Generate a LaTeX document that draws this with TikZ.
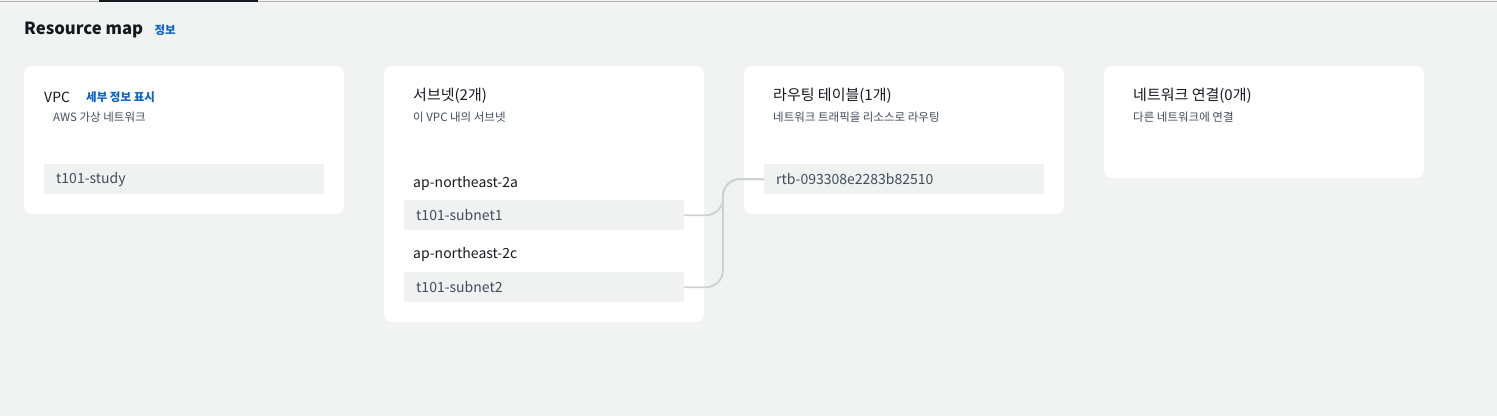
\documentclass[tikz,border=0pt]{standalone}
\usepackage{fontspec}
\setmainfont{Noto Sans CJK KR}
\usepackage{tikz}
\usetikzlibrary{positioning}

\definecolor{pagebg}{RGB}{241,242,242}
\definecolor{idgray}{RGB}{240,241,241}
\definecolor{linkgray}{RGB}{204,210,210}
\definecolor{infoblue}{RGB}{12,98,201}
\definecolor{inkdark}{RGB}{22,25,31}
\definecolor{inksoft}{RGB}{65,77,92}

\begin{document}
\begin{tikzpicture}[x=1pt,y=-1pt,node distance=2pt,
      card/.style={fill=white,rounded corners=8pt},
      heading/.style={anchor=west,inner sep=0pt,text=inkdark,font=\fontsize{15}{18}\selectfont},
      note/.style={anchor=north west,inner sep=0pt,text=inksoft,font=\fontsize{11.5}{13}\selectfont},
      infolink/.style={anchor=west,inner sep=0pt,text=infoblue,font=\fontsize{11.5}{13}\selectfont\bfseries},
      zone/.style={anchor=west,inner sep=0pt,text=inkdark,font=\fontsize{14}{17}\selectfont},
      idbox/.style={anchor=north west,fill=idgray,minimum height=30pt,text width=256pt,
        inner xsep=12pt,inner ysep=0pt,align=left,text=inksoft,font=\fontsize{14}{17}\selectfont},
      link/.style={draw=linkgray,line width=1.8pt,rounded corners=17pt}]
      \useasboundingbox[fill=pagebg] (0,0) rectangle (1497,416);
      % tab strip
      \draw[gray!60,line width=1pt] (0,1.5) -- (1497,1.5);
      \fill[inkdark] (99,0) rectangle (258,2);

      % header
      \node[anchor=west,inner sep=0pt,text=inkdark,font=\fontsize{16.7}{20}\selectfont\bfseries] (hdr) at (24,30) {Resource map};
      \node[infolink,right=11pt of hdr] (hdrinfo) {정보};

      % cards
      \fill[card] (24,66) rectangle (344,214);
      \fill[card] (384,66) rectangle (704,322);
      \fill[card] (744,66) rectangle (1064,214);
      \fill[card] (1104,66) rectangle (1424,178);

      % VPC
      \node[heading,font=\fontsize{14}{17}\selectfont] (vpc) at (44,97) {VPC};
      \node[infolink] (vpcinfo) at (86,97) {세부 정보 표시};
      \node[note] (vpcnote) at (53,112) {AWS 가상 네트워크};
      \node[idbox] (vpcid) at (44,164) {t101-study};

      % subnets
      \node[heading] (subnets) at (413,96) {서브넷(2개)};
      \node[note,below=8pt of subnets.south west,anchor=north west] (subnote) {이 VPC 내의 서브넷};
      \node[zone] (zonea) at (413,184) {ap-northeast-2a};
      \node[idbox] (sub1) at (404,200) {t101-subnet1};
      \node[zone] (zonec) at (413,255) {ap-northeast-2c};
      \node[idbox] (sub2) at (404,272) {t101-subnet2};

      % route tables
      \node[heading] (routes) at (773,96) {라우팅 테이블(1개)};
      \node[note,below=8pt of routes.south west,anchor=north west] (routenote) {네트워크 트래픽을 리소스로 라우팅};
      \node[idbox] (rtb) at (764,164) {rtb-093308e2283b82510};

      % network connections
      \node[heading] (conns) at (1133,96) {네트워크 연결(0개)};
      \node[note,below=8pt of conns.south west,anchor=north west] (connnote) {다른 네트워크에 연결};

      \coordinate (joint) at (723,179);
      \draw[link] (sub1.east) -| (joint) -- (rtb.west);
      \draw[link] (sub2.east) -| (joint) -- (rtb.west);
    \end{tikzpicture}
\end{document}
